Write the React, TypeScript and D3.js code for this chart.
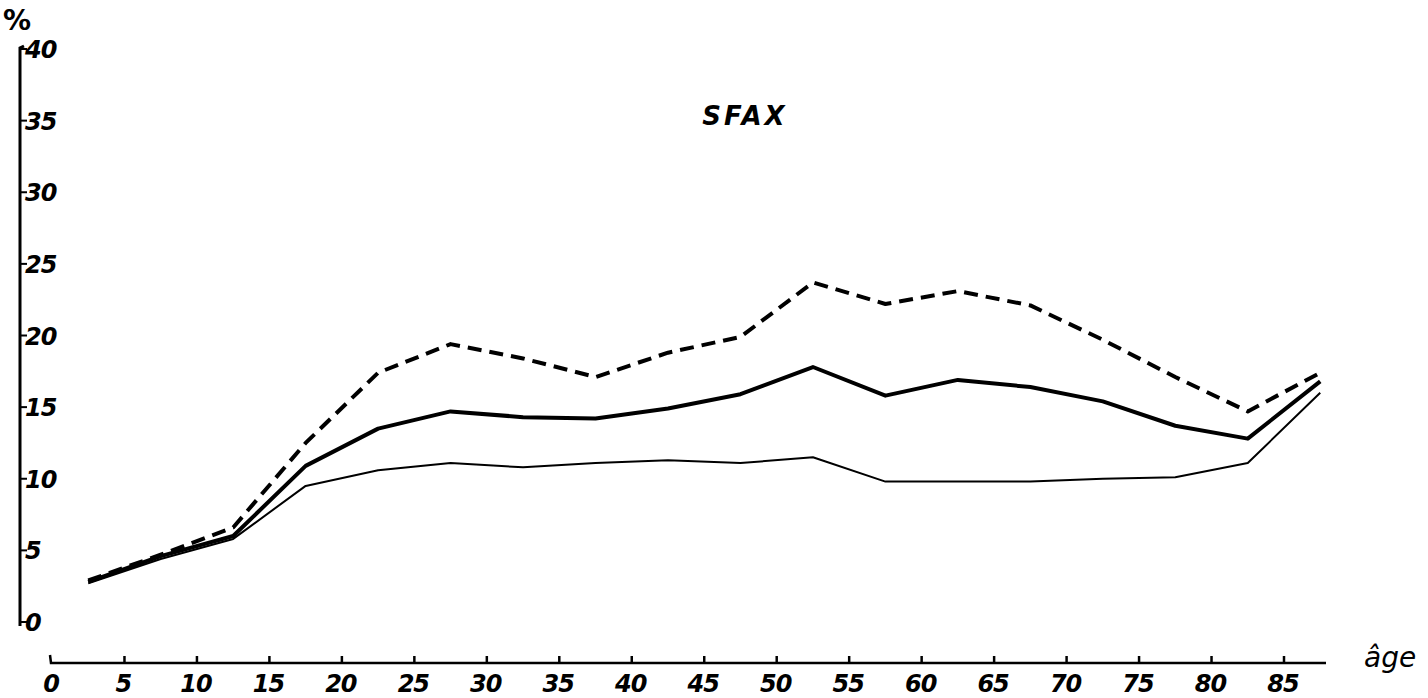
import React from "react";
import * as d3 from "d3";

// age groups, plotted at the midpoint of each 5-year class (85+ at 87.5)
const ages = [2.5, 7.5, 12.5, 17.5, 22.5, 27.5, 32.5, 37.5, 42.5, 47.5, 52.5, 57.5, 62.5, 67.5, 72.5, 77.5, 82.5, 87.5];

const dashedSeries = [2.9, 4.7, 6.6, 12.5, 17.4, 19.4, 18.4, 17.1, 18.8, 19.9, 23.7, 22.2, 23.1, 22.1, 19.7, 17.1, 14.7, 17.4];
const thickSeries = [2.8, 4.6, 6.0, 10.9, 13.5, 14.7, 14.3, 14.2, 14.9, 15.9, 17.8, 15.8, 16.9, 16.4, 15.4, 13.7, 12.8, 16.8];
const thinSeries = [2.7, 4.4, 5.8, 9.5, 10.6, 11.1, 10.8, 11.1, 11.3, 11.1, 11.5, 9.8, 9.8, 9.8, 10.0, 10.1, 11.1, 16.0];

const xTicks = [0, 5, 10, 15, 20, 25, 30, 35, 40, 45, 50, 55, 60, 65, 70, 75, 80, 85];
const yTicks = [0, 5, 10, 15, 20, 25, 30, 35, 40];

const W = 1428, H = 698;
const font = "'DejaVu Sans', sans-serif";

export default function App() {
	const x = d3.scaleLinear().domain( [ 0, 85 ] ).range( [ 52, 1284 ] );
	const y = d3.scaleLinear().domain( [ 0, 40 ] ).range( [ 622, 49 ] );

	const line = d3.line<number>()
		.x( ( d, i ) => x( ages[ i ] ) )
		.y( d => y( d ) );

	const axisY = 663;

	return (
		<svg width={W} height={H} style={{ position: "absolute", left: 0, top: 0, background: "#fff" }}>
			{/* y axis */}
			<path d={`M24,${y( 40 ) - 3} L20,${y( 40 ) - 1} L20,${y( 0 ) + 4}`} fill="none" stroke="#000" strokeWidth={3} />
			{yTicks.map( t => (
				<g key={t}>
					<line x1={20} x2={27} y1={y( t )} y2={y( t )} stroke="#000" strokeWidth={2} />
					<text x={25} y={y( t ) + 9} fontFamily={font} fontSize={24} fontWeight="bold" fontStyle="italic" letterSpacing={-1}>{t}</text>
				</g>
			) )}
			<text x={3} y={30} fontFamily={font} fontSize={28} fontWeight="bold">%</text>

			{/* x axis */}
			<path d={`M50,${axisY - 8} L51,${axisY} L1326,${axisY}`} fill="none" stroke="#000" strokeWidth={2.5} />
			{xTicks.slice( 1 ).map( t => (
				<line key={t} x1={x( t )} x2={x( t )} y1={axisY} y2={axisY - 7} stroke="#000" strokeWidth={2.5} />
			) )}
			{xTicks.map( t => (
				<text key={t} x={x( t ) - 1} y={692} textAnchor="middle" fontFamily={font} fontSize={24} fontWeight="bold" fontStyle="italic" letterSpacing={-1}>{t}</text>
			) )}
			<text x={1364} y={667} fontFamily={font} fontSize={28} fontStyle="italic">âge</text>

			{/* title */}
			<text x={745} y={125} textAnchor="middle" fontFamily={font} fontSize={26} fontWeight="bold" fontStyle="italic" letterSpacing={3}>SFAX</text>

			{/* series */}
			<path d={line( thinSeries ) || ""} fill="none" stroke="#000" strokeWidth={2} strokeLinejoin="round" />
			<path d={line( thickSeries ) || ""} fill="none" stroke="#000" strokeWidth={4} strokeLinejoin="round" />
			<path d={line( dashedSeries ) || ""} fill="none" stroke="#000" strokeWidth={4} strokeDasharray="14 8" strokeLinejoin="round" />
		</svg>
	);
}
